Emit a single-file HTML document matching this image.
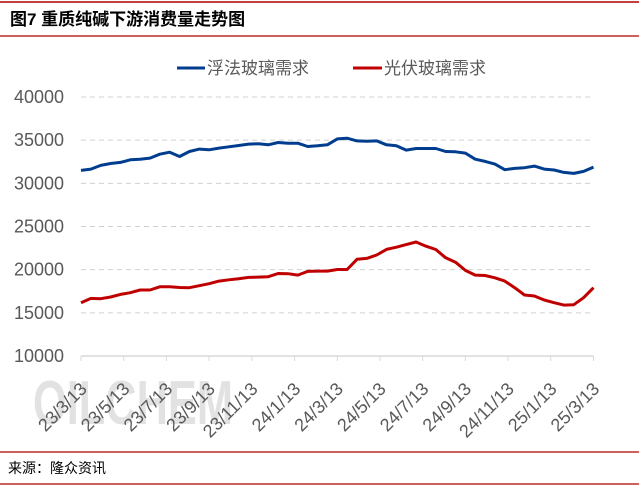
<!DOCTYPE html>
<html><head><meta charset="utf-8"><style>
body{margin:0;background:#fff;width:639px;height:486px;overflow:hidden;font-family:"Liberation Sans","Noto Sans CJK SC",sans-serif}
</style></head><body>
<svg width="639" height="486" xmlns="http://www.w3.org/2000/svg">
<line x1="0" y1="2" x2="639" y2="2" stroke="#b00000" stroke-width="1.5"/>
<text x="10" y="25" font-size="17" font-weight="bold" fill="#000" font-family="Liberation Sans,Noto Sans CJK SC,sans-serif">图7  重质纯碱下游消费量走势图</text>
<line x1="0" y1="36" x2="639" y2="36" stroke="#b00000" stroke-width="1.2"/>
<text x="33" y="424" font-size="62" font-weight="bold" fill="#e2e2e2" textLength="200" lengthAdjust="spacingAndGlyphs">OILCHEM</text>
<g>
<line x1="177" y1="68" x2="205" y2="68" stroke="#003d8f" stroke-width="3"/>
<text x="207" y="74" font-size="17" fill="#595959">浮法玻璃需求</text>
<line x1="353" y1="68" x2="382" y2="68" stroke="#c00000" stroke-width="3"/>
<text x="384" y="74" font-size="17" fill="#595959">光伏玻璃需求</text>
</g>
<g id="plot"></g>
<line x1="0" y1="452" x2="639" y2="452" stroke="#b00000" stroke-width="1.2"/>
<text x="8" y="473" font-size="14" fill="#000">来源：隆众资讯</text>
<line x1="0" y1="484" x2="639" y2="484" stroke="#b00000" stroke-width="1.2"/>
</svg>
<script>
const yTicks=[10000,15000,20000,25000,30000,35000,40000];
const xLabels=["23/3/13","23/5/13","23/7/13","23/9/13","23/11/13","24/1/13","24/3/13","24/5/13","24/7/13","24/9/13","24/11/13","25/1/13","25/3/13"];
const floatGlass=[31500,31650,32080,32300,32420,32730,32800,32920,33380,33610,33110,33690,33960,33880,34080,34230,34380,34540,34580,34460,34730,34650,34650,34270,34350,34460,35150,35230,34920,34880,34920,34460,34350,33850,34040,34040,34040,33690,33650,33500,32800,32540,32230,31580,31730,31810,32000,31650,31540,31270,31150,31380,31880];
const pvGlass=[16170,16670,16640,16830,17140,17330,17640,17640,18020,18020,17940,17910,18140,18370,18680,18830,18950,19100,19140,19180,19560,19530,19370,19800,19830,19830,20020,20020,21200,21300,21700,22350,22600,22900,23200,22720,22340,21370,20870,19910,19370,19330,19060,18680,17910,17060,16950,16490,16170,15900,15940,16750,17910];
const NS="http://www.w3.org/2000/svg";
const g=document.getElementById('plot');
const x0=81,x1=593.5,yTop=97,yBot=356;
const yS=v=>yBot-(v-10000)/30000*(yBot-yTop);
const xS=(i,n)=>x0+i*(x1-x0)/(n-1);
function mk(t,a){const e=document.createElementNS(NS,t);for(const k in a)e.setAttribute(k,a[k]);g.appendChild(e);return e;}
yTicks.forEach(v=>{
  if(v>10000){const l=mk('line',{x1:x0,x2:x1,y1:yS(v),y2:yS(v),stroke:'#d0d0d0','stroke-width':1,'stroke-dasharray':'5,4'});
  
  }
  const t=mk('text',{x:64,y:yS(v)+6,'text-anchor':'end','font-size':18,fill:'#595959'});
  t.textContent=v;
  
  
});
const ax=mk('line',{x1:x0,x2:x1,y1:yBot,y2:yBot,stroke:'#d9d9d9','stroke-width':1.5});


xLabels.forEach((s,i)=>{
  const x=xS(i,xLabels.length);
  const tk=mk('line',{x1:x,x2:x,y1:yBot,y2:yBot+5,stroke:'#d9d9d9'});
  
  
  const ax_=x+7,ay=yBot+34;
  const t=mk('text',{x:ax_,y:ay,'text-anchor':'end','font-size':18,fill:'#595959',transform:`rotate(-45 ${ax_} ${ay})`});
  t.textContent=s;
  
  
});
function series(arr,color,name){
  const d=arr.map((v,i)=>(i?'L':'M')+xS(i,arr.length).toFixed(1)+','+yS(v).toFixed(1)).join('');
  const p=mk('path',{d:d,fill:'none',stroke:color,'stroke-width':3,'stroke-linejoin':'round'});
  
  
}
series(floatGlass,'#003d8f','float-glass-line');
series(pvGlass,'#c00000','pv-glass-line');
</script>
</body></html>
